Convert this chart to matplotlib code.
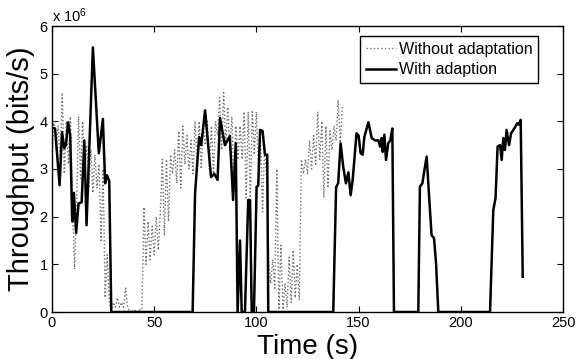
import matplotlib
matplotlib.use("Agg")
import matplotlib.pyplot as plt
from matplotlib.ticker import FuncFormatter

plt.rcParams['font.family'] = ['Liberation Sans', 'DejaVu Sans']
plt.rcParams['mathtext.fontset'] = 'custom'
plt.rcParams['mathtext.rm'] = 'Liberation Sans'
plt.rcParams['mathtext.it'] = 'Liberation Sans'

# "Without adaptation" throughput (x 1e6 bits/s), sampled every second from t=0
without_t = list(range(0, 143))
without_v = [3.3, 4.0, 3.4, 3.9, 3.2, 4.6, 2.9, 4.0, 3.1, 4.1,
             2.4, 0.9, 2.2, 4.1, 2.8, 4.0, 2.9, 3.5, 2.6, 3.4,
             2.5, 3.3, 2.6, 3.1, 1.5, 3.0, 0.3, 1.2, 0.2, 0.0,
             0.2, 0.1, 0.3, 0.1, 0.2, 0.1, 0.5, 0.1, 0.0, 0.05,
             0.0, 0.05, 0.0, 0.05, 0.05, 2.2, 1.0, 1.9, 1.1, 1.8,
             1.2, 2.0, 1.3, 2.1, 3.2, 1.6, 3.2, 1.9, 3.3, 2.9,
             3.4, 2.7, 3.8, 2.6, 3.9, 3.1, 3.7, 3.0, 3.6, 2.9,
             4.0, 3.1, 4.0, 3.0, 3.9, 3.5, 4.0, 3.0, 3.9, 2.9,
             4.0, 3.7, 4.5, 3.4, 4.6, 3.5, 4.3, 3.4, 4.1, 2.8,
             3.9, 3.2, 3.9, 3.2, 4.2, 2.4, 4.2, 2.4, 4.2, 3.3,
             4.2, 3.0, 3.6, 2.1, 3.5, 2.8, 1.1, 0.6, 1.1, 0.5,
             3.0, 0.05, 1.4, 0.05, 0.6, 0.1, 1.15, 0.2, 1.3, 0.3,
             1.0, 0.25, 3.2, 2.9, 3.2, 2.9, 3.6, 3.0, 3.7, 3.1,
             4.2, 3.2, 4.0, 2.4, 3.9, 2.6, 3.8, 3.4, 3.9, 3.6,
             4.45, 3.55, 4.3]

# "With adaption" throughput (x 1e6 bits/s)
with_t = [0, 1.5, 3.7, 4.9, 6.0, 6.8, 7.9, 8.9, 9.9, 10.7, 11.8, 13.0, 14.5, 15.8, 16.9,
          20.0, 22.9, 24.9, 26.0, 26.9, 28.0, 29.0,
          68.8, 70.0, 72.0, 73.0, 74.9, 77.8, 79.4, 81.0, 82.2, 84.6, 87.0, 88.6, 89.9,
          90.8, 92.0, 92.8, 94.4, 96.0, 96.9, 97.7, 98.8, 100.1, 100.9, 101.8, 103.0,
          104.2, 105.3, 105.8,
          137.6, 139.0, 140.0, 141.2, 142.5, 143.8, 145.0, 146.1, 147.1, 149.0, 150.0,
          151.0, 152.0, 152.8, 154.8, 156.4, 158.0, 159.7, 160.5, 161.3, 161.8, 162.6,
          163.4, 164.5, 165.5, 166.5, 167.3,
          179.2, 180.0, 181.2, 182.2, 183.3, 184.4, 185.7, 186.9, 187.9, 189.0,
          214.3, 215.9, 217.0, 218.0, 219.2, 220.0, 220.8, 221.6, 222.4, 223.6, 224.6,
          225.7, 226.6, 227.6, 228.4, 229.3, 230.3]
with_v = [3.86, 3.85, 2.66, 3.77, 3.44, 3.5, 3.98, 3.7, 1.9, 2.5, 1.66, 2.28, 2.3, 3.6, 1.82,
          5.55, 3.33, 4.05, 2.7, 2.87, 2.75, 0.0,
          0.0, 2.5, 3.67, 3.5, 4.23, 2.83, 2.9, 2.77, 4.07, 3.5, 3.69, 2.35, 3.54,
          0.0, 1.5, 0.0, 0.0, 2.35, 2.35, 0.0, 0.0, 2.63, 2.65, 3.82, 3.8,
          3.3, 3.3, 0.0,
          0.0, 2.62, 2.7, 3.54, 3.04, 2.7, 2.93, 2.45, 2.77, 3.75, 3.7,
          3.33, 3.3, 3.67, 3.98, 3.65, 3.6, 3.6, 3.47, 3.65, 3.36, 3.72,
          3.19, 3.54, 3.6, 3.85, 0.0,
          0.0, 2.63, 2.7, 2.98, 3.26, 2.49, 1.61, 1.55, 1.02, 0.0,
          0.0, 2.14, 2.39, 3.47, 3.5, 3.19, 3.65, 3.4, 3.82, 3.5, 3.75,
          3.82, 3.88, 3.96, 3.93, 4.03, 0.74]

x_ticks = [0, 50, 100, 150, 200, 250]
y_ticks = [0, 1, 2, 3, 4, 5, 6]
scale = 1e6

fig = plt.figure(figsize=(5.77, 3.59), dpi=100)
ax = fig.add_axes([52/577, 1 - 312/359, 511/577, 286/359])

ax.plot(without_t, [v * scale for v in without_v], linestyle=':', color='#6e6e6e',
        linewidth=1.0, label='Without adaptation')
ax.plot(with_t, [v * scale for v in with_v], linestyle='-', color='black',
        linewidth=1.8, label='With adaption')

ax.set_xlim(0, 250)
ax.set_ylim(0, 6 * scale)
ax.set_xticks(x_ticks)
ax.set_yticks([y * scale for y in y_ticks])
ax.yaxis.set_major_formatter(FuncFormatter(lambda v, p: f'{v/scale:g}'))
ax.tick_params(direction='in', top=True, right=True, length=4, width=0.8,
               labelsize=10.5, pad=3)
for s in ax.spines.values():
    s.set_linewidth(1.0)

ax.text(0.0, 1.003, r'x 10$^{6}$', transform=ax.transAxes, ha='left', va='bottom',
        fontsize=10.5)

ax.set_xlabel('Time (s)', fontsize=20, labelpad=3)
ax.set_ylabel('Throughput (bits/s)', fontsize=21, labelpad=3)

leg = ax.legend(loc='upper right', bbox_to_anchor=(0.951, 0.965), fontsize=11.5,
                frameon=True, fancybox=False, framealpha=1, edgecolor='black',
                handlelength=1.9, handletextpad=0.15, borderpad=0.35,
                labelspacing=0.35, borderaxespad=0)
leg.get_frame().set_linewidth(1.0)

fig.savefig('out.png', dpi=100)
